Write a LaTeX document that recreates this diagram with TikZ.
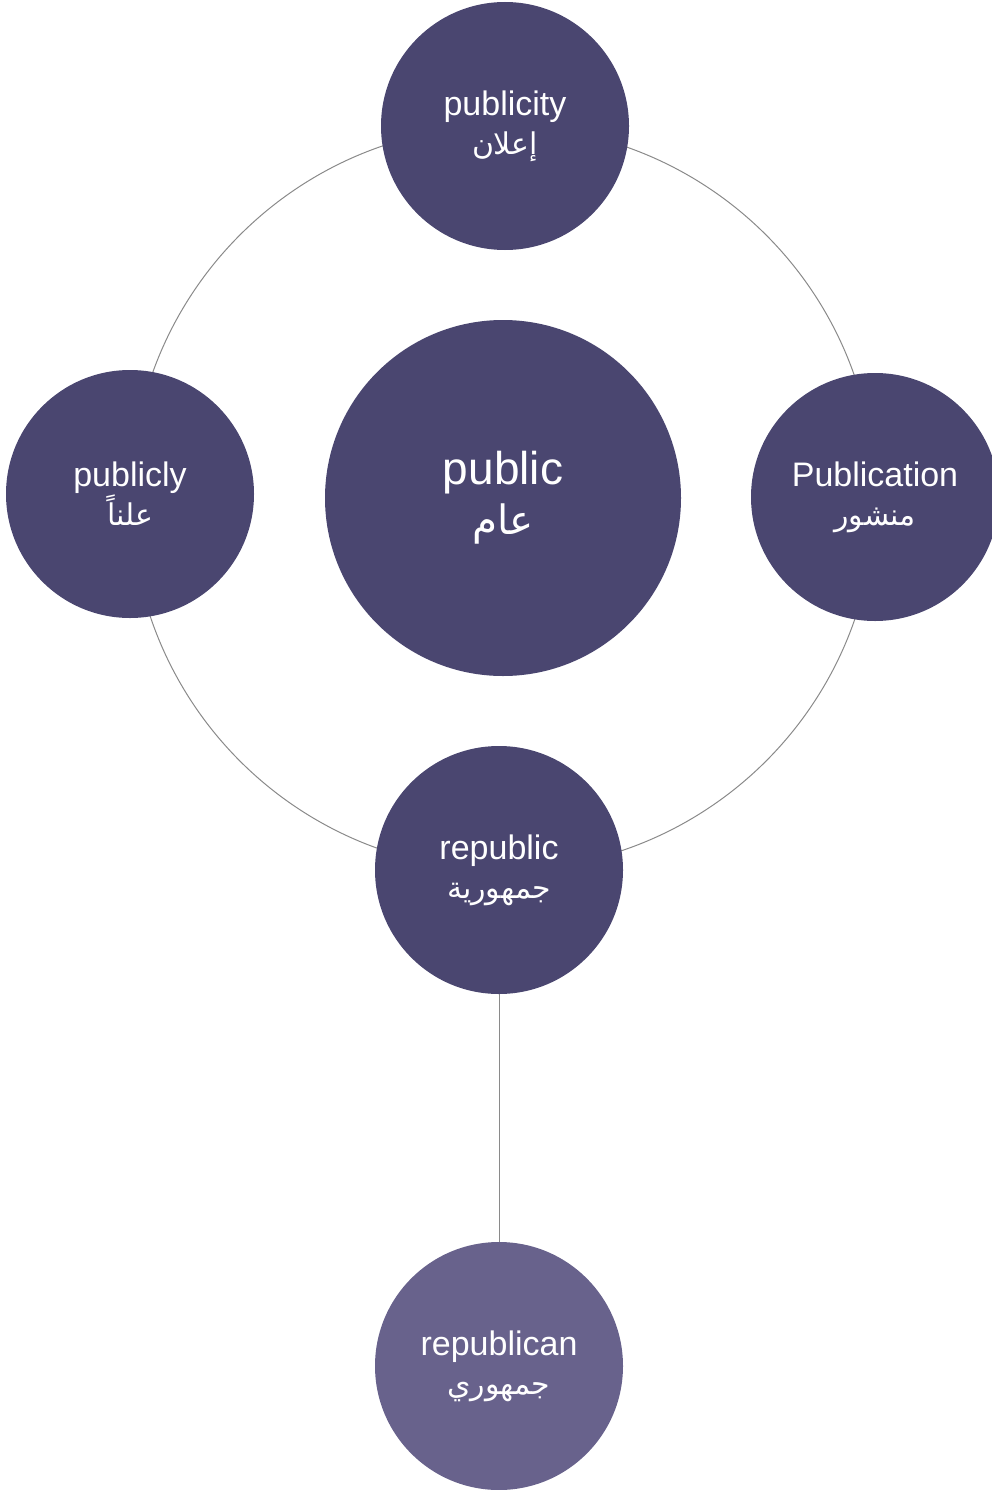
\documentclass[tikz,border=0pt]{standalone}
\usepackage{fontspec}
\setmainfont{Liberation Sans}
\newfontfamily\arabicfont[Script=Arabic,Scale=0.88]{DejaVu Sans}
\TeXXeTstate=1
\definecolor{darkpurple}{HTML}{4A4670}
\definecolor{lightpurple}{HTML}{68628C}
\definecolor{ringgray}{HTML}{8A8A8A}
\tikzset{
  bubble/.style={circle, fill=darkpurple, draw=none, minimum size=248pt, inner sep=0pt,
    text=white, align=center, font=\fontsize{34}{39}\selectfont},
  bigbubble/.style={bubble, minimum size=356pt, font=\fontsize{46}{50}\selectfont},
  lightbubble/.style={bubble, fill=lightpurple},
  ring/.style={draw=ringgray, line width=1pt},
  link/.style={draw=ringgray, line width=1pt}
}
\newcommand{\ar}[1]{{\arabicfont\beginR #1\endR}}
\begin{document}
\begin{tikzpicture}[x=1pt,y=-1pt]
\useasboundingbox (0,0) rectangle (992,1490);
\coordinate (c) at (503,498);
\draw[ring] (c) circle[radius=372pt];
\node[bigbubble] (public) at (503,498) {public\\\ar{عام}};
\node[bubble] (publicity) at (505,126) {publicity\\\ar{إعلان}};
\node[bubble] (publicly) at (130,494) {publicly\\\ar{علناً}};
\node[bubble] (publication) at (875,497) {Publication\\\ar{منشور}};
\node[bubble] (republic) at (499,870) {republic\\\ar{جمهورية}};
\node[lightbubble] (republican) at (499,1366) {republican\\\ar{جمهوري}};
\draw[link] (republic.south) -- (republican.north);
\end{tikzpicture}
\end{document}
